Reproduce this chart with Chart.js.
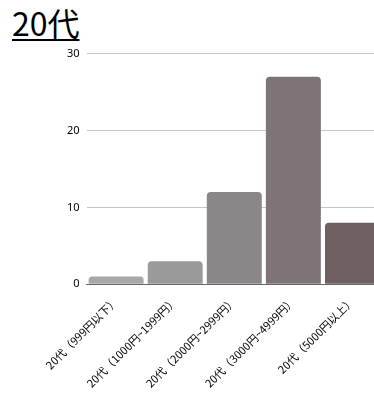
<!DOCTYPE html>
<html>
<head>
<meta charset="utf-8">
<script src="https://cdn.jsdelivr.net/npm/chart.js@4/dist/chart.umd.min.js"></script>
<style>
  body { margin: 0; background: #fff; overflow: hidden; }
  h1 {
    position: absolute; left: 12px; top: 2px; margin: 0;
    font-family: "Noto Sans CJK JP", "Noto Sans", sans-serif;
    font-weight: normal; font-size: 32px; line-height: 40px;
    text-decoration: underline; text-decoration-thickness: 2px;
    text-underline-offset: 3px;
  }
  #wrap { position: absolute; left: 0; top: 40px; }
</style>
</head>
<body>
<h1>20代</h1>
<div id="wrap"><canvas id="grafico" width="382" height="360"></canvas></div>
<script>
  var faixas = ['20代（999円以下）', '20代（1000円~1999円）', '20代（2000円~2999円）', '20代（3000円~4999円）', '20代（5000円以上）'];
  var pessoas = [1, 3, 12, 27, 8];
  var cores = ['#a9a7a8', '#9b999a', '#8b8688', '#7e7376', '#6e5f60'];
  var escalaY = [0, 10, 20, 30];

  var ctx = document.getElementById('grafico').getContext('2d');
  new Chart(ctx, {
    type: 'bar',
    data: {
      labels: faixas,
      datasets: [{
        data: pessoas,
        backgroundColor: cores,
        borderRadius: { topLeft: 4, topRight: 4 },
        borderSkipped: 'bottom',
        barPercentage: 1,
        categoryPercentage: 0.93
      }]
    },
    options: {
      responsive: false,
      animation: false,
      layout: { padding: { top: 2, left: 60, right: 0 } },
      plugins: { legend: { display: false }, tooltip: { enabled: false } },
      scales: {
        x: {
          grid: { display: false, drawTicks: false },
          border: { display: true, color: '#666', width: 1 },
          ticks: {
            color: '#000', maxRotation: 45, minRotation: 45, padding: 10,
            font: { family: '"Noto Sans CJK JP", sans-serif', size: 11 }
          }
        },
        y: {
          min: escalaY[0], max: escalaY[escalaY.length - 1],
          afterBuildTicks: function (axis) { axis.ticks = escalaY.map(function (v) { return { value: v }; }); },
          grid: { color: '#c4c4c4', drawTicks: false },
          border: { display: false },
          ticks: {
            color: '#000', padding: 7,
            font: { family: '"Noto Sans", sans-serif', size: 11 }
          }
        }
      }
    }
  });
</script>
</body>
</html>
